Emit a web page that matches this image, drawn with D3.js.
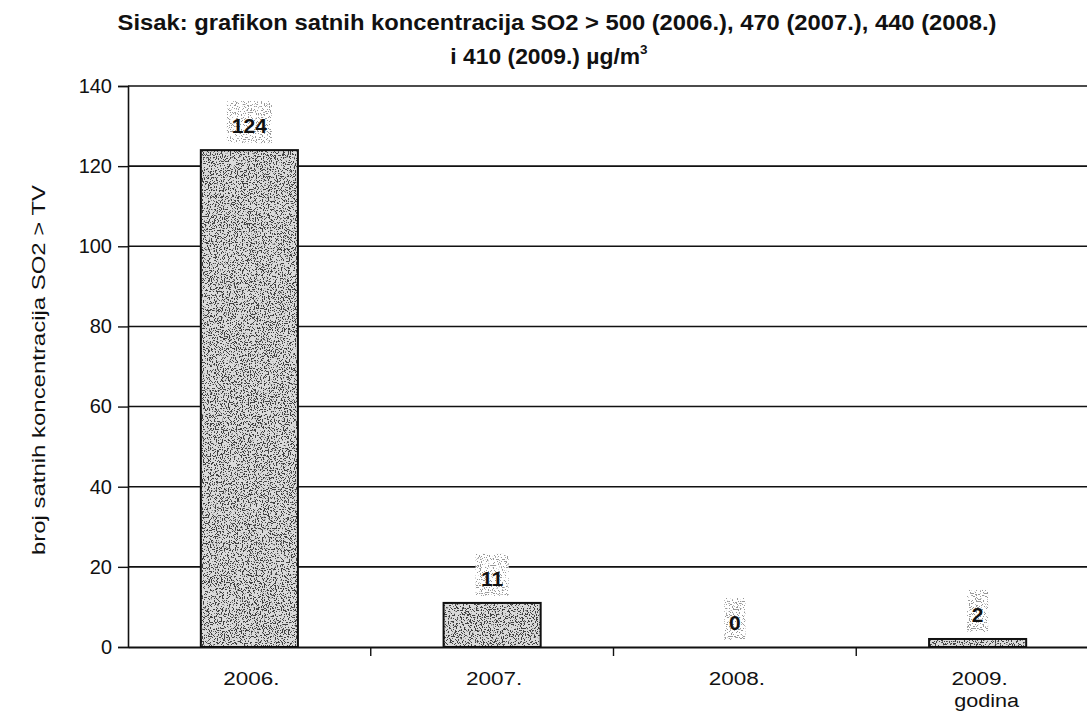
<!DOCTYPE html>
<html><head><meta charset="utf-8">
<script src="https://cdn.jsdelivr.net/npm/d3@7"></script>
<style>body{margin:0;background:#fff}svg{display:block}text{font-family:"Liberation Sans",Arial,sans-serif}</style>
</head><body>
<svg id="c" width="1087" height="715"></svg>
<script>
const categories = ["2006.", "2007.", "2008.", "2009."];
const values = [124, 11, 0, 2];
const yTicks = [0, 20, 40, 60, 80, 100, 120, 140];
const titleLines = ["Sisak: grafikon satnih koncentracija SO2 > 500 (2006.), 470 (2007.), 440 (2008.)", "i 410 (2009.) \u00b5g/m"];
const yLabel = "broj satnih koncentracija SO2 > TV";
const xLabel = "godina";

const svg = d3.select("#c");
const W = 1087, H = 715;
const m = {left: 128, top: 86, right: -12, bottom: 68};
const x = d3.scaleBand().domain(categories).range([m.left, W - m.right]).paddingInner(0.6).paddingOuter(0.3);
const xb = d3.scaleBand().domain(categories).range([m.left, W - m.right]);
const y = d3.scaleLinear().domain([0, 140]).range([H - m.bottom, m.top]);

function stretch(sel, k) {
  sel.each(function () {
    const L = this.getComputedTextLength();
    d3.select(this).attr("textLength", L * k).attr("lengthAdjust", "spacingAndGlyphs");
  });
}

// textures
const defs = svg.append("defs");
function speckle(id, seed, base, dot, a, b) {
  const f = defs.append("filter").attr("id", id).attr("x", 0).attr("y", 0).attr("width", 1).attr("height", 1)
    .attr("color-interpolation-filters", "sRGB");
  f.append("feTurbulence").attr("type", "fractalNoise").attr("baseFrequency", 0.85).attr("numOctaves", 2).attr("seed", seed).attr("result", "n");
  f.append("feColorMatrix").attr("in", "n").attr("type", "matrix")
    .attr("values", `0 0 0 0 ${dot}  0 0 0 0 ${dot}  0 0 0 0 ${dot}  ${a} 0 0 0 ${b}`).attr("result", "dots");
  f.append("feFlood").attr("flood-color", base).attr("result", "bg");
  f.append("feComposite").attr("in", "dots").attr("in2", "bg").attr("operator", "over").attr("result", "c1");
  f.append("feComposite").attr("in", "c1").attr("in2", "SourceGraphic").attr("operator", "in");
}
speckle("speck", 3, "#dadada", 0.25, -22, 9.9);
speckle("speck2", 7, "#ffffff", 0.6, -22, 9.2);

// gridlines
svg.append("g").selectAll("line").data(yTicks.filter(d => d > 0)).join("line")
  .attr("x1", m.left).attr("x2", W).attr("y1", d => y(d)).attr("y2", d => y(d))
  .attr("stroke", "#111").attr("stroke-width", 1.6);

// y axis
const ya = svg.append("g").attr("transform", `translate(${m.left},0)`)
  .call(d3.axisLeft(y).tickValues(yTicks).tickSize(10).tickPadding(6));
ya.select(".domain").attr("stroke", "#111").attr("stroke-width", 1.6);
ya.selectAll(".tick line").attr("stroke", "#111").attr("stroke-width", 1.4);
ya.selectAll(".tick text").attr("font-size", 20).attr("fill", "#111").attr("font-family", "Liberation Sans, Arial, sans-serif");

const data = values.map((v, i) => ({c: categories[i], v}));

// bars
svg.append("g").selectAll("rect").data(data).join("rect")
  .attr("x", d => x(d.c)).attr("width", x.bandwidth())
  .attr("y", d => y(d.v)).attr("height", d => y(0) - y(d.v))
  .attr("fill", "#bbb").attr("filter", "url(#speck)");
svg.append("g").selectAll("rect").data(data.filter(d => d.v > 0)).join("rect")
  .attr("x", d => x(d.c)).attr("width", x.bandwidth())
  .attr("y", d => y(d.v)).attr("height", d => y(0) - y(d.v))
  .attr("fill", "none").attr("stroke", "#111").attr("stroke-width", 2);

// x axis
const xa = svg.append("g").attr("transform", `translate(0,${y(0)})`)
  .call(d3.axisBottom(xb).tickValues([]).tickSizeOuter(0));
xa.select(".domain").attr("stroke", "#111").attr("stroke-width", 2);
svg.append("g").selectAll("line").data(categories.slice(1)).join("line")
  .attr("x1", d => xb(d)).attr("x2", d => xb(d)).attr("y1", y(0)).attr("y2", y(0) + 9)
  .attr("stroke", "#111").attr("stroke-width", 1.4);
const xl = svg.append("g").selectAll("text").data(categories).join("text")
  .attr("x", d => x(d) + x.bandwidth() / 2 + 2).attr("y", y(0) + 38)
  .attr("text-anchor", "middle").attr("font-size", 18).attr("fill", "#111").text(d => d);
stretch(xl, 1.25);
const gl = svg.append("text").attr("x", x(categories[3]) + x.bandwidth() / 2 + 9).attr("y", y(0) + 60)
  .attr("text-anchor", "middle").attr("font-size", 18).attr("fill", "#111").text(xLabel);
stretch(gl, 1.2);

// data labels
const lab = svg.append("g").selectAll("g").data(data).join("g")
  .attr("transform", d => `translate(${x(d.c) + x.bandwidth() / 2},${y(d.v)})`);
lab.append("rect").attr("x", d => -(String(d.v).length * 12 + 9) / 2).attr("width", d => String(d.v).length * 12 + 9)
  .attr("y", -49).attr("height", 42).attr("fill", "#ccc").attr("filter", "url(#speck2)");
lab.append("text").attr("y", -17).attr("text-anchor", "middle").attr("font-size", 21).attr("font-weight", "bold")
  .attr("fill", "#111").text(d => d.v);

// title
const t1 = svg.append("text").attr("x", 557).attr("y", 30).attr("text-anchor", "middle")
  .attr("font-size", 22).attr("font-weight", "bold").attr("fill", "#111").text(titleLines[0]);
stretch(t1, 1.08);
const t2 = svg.append("text").attr("x", 549).attr("y", 64).attr("text-anchor", "middle")
  .attr("font-size", 22).attr("font-weight", "bold").attr("fill", "#111").text(titleLines[1]);
stretch(t2, 1.08);
t2.append("tspan").attr("font-size", 13).attr("dy", -10).text("3");

// y label
const yl = svg.append("text").attr("transform", `translate(45,370) rotate(-90)`)
  .attr("text-anchor", "middle").attr("font-size", 18).attr("fill", "#111").text(yLabel);
stretch(yl, 1.33);
</script>
</body></html>
